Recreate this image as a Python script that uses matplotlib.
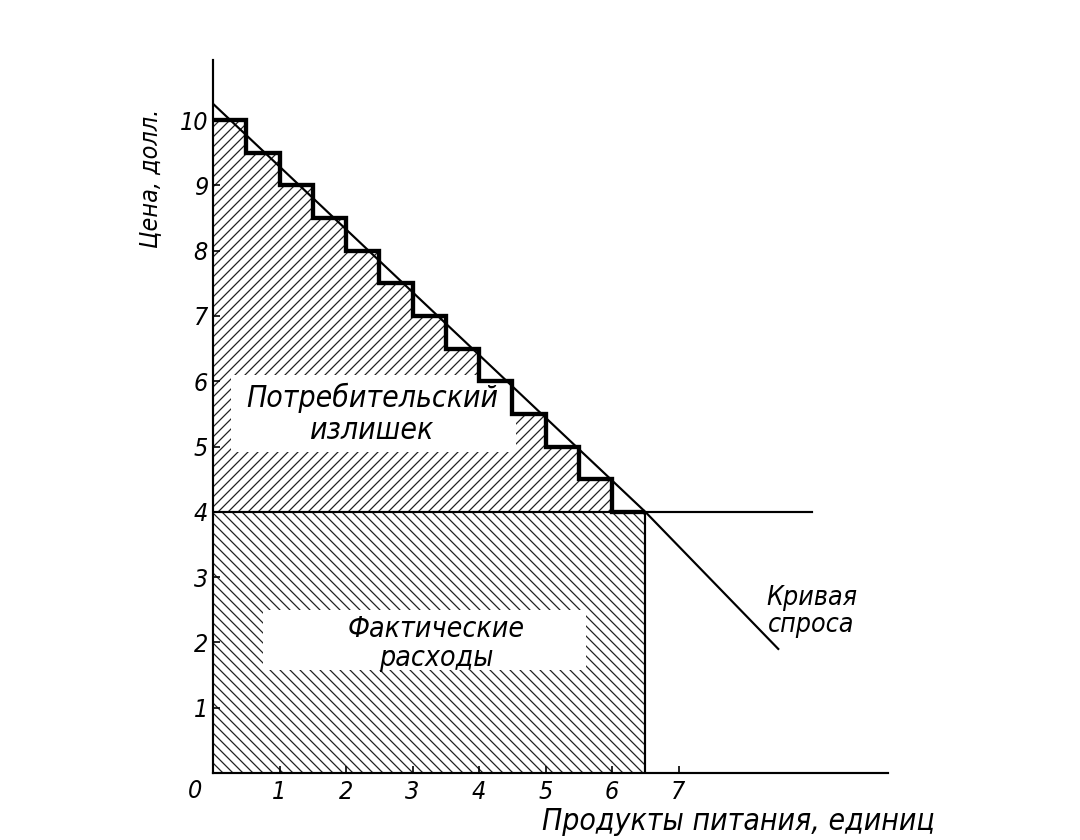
import matplotlib
matplotlib.use("Agg")
import matplotlib.pyplot as plt
from matplotlib.patches import Rectangle

# step demand: each half unit of food bought at a lower price
quantity_edges = [0, 0.5, 1.0, 1.5, 2.0, 2.5, 3.0, 3.5, 4.0, 4.5, 5.0, 5.5, 6.0, 6.5]
step_prices = [10, 9.5, 9, 8.5, 8, 7.5, 7, 6.5, 6, 5.5, 5, 4.5, 4]

# smooth demand curve (kinked at the market point)
demand_q = [0, 6.5, 8.5]
demand_p = [10.25, 4.0, 1.9]

market_price = 4
quantity_bought = 6.5
price_line_end = 9.0

x_ticks = [1, 2, 3, 4, 5, 6, 7]
y_ticks = [1, 2, 3, 4, 5, 6, 7, 8, 9, 10]

plt.rcParams['font.family'] = ['DejaVu Sans']
plt.rcParams['font.style'] = 'italic'
plt.rcParams['font.stretch'] = 'condensed'
plt.rcParams['hatch.linewidth'] = 0.75

fig = plt.figure(figsize=(9, 7), dpi=120)
ax = fig.add_axes([213 / 1080, 67 / 840, 675 / 1080, 713 / 840])
ax.set_xlim(0, 10.15)
ax.set_ylim(0, 10.92)

# actual spending (lower rectangle)
ax.bar(0, market_price, width=quantity_bought, align='edge', fill=False,
       hatch='\\\\\\\\', edgecolor='#222222', linewidth=0, zorder=1)
# consumer surplus (area under the steps above the price)
ax.stairs(step_prices, quantity_edges, baseline=market_price, fill=True,
          facecolor='none', edgecolor='#222222', hatch='////', linewidth=0, zorder=1)

# white label boxes
ax.add_patch(Rectangle((0.27, 4.92), 4.29, 1.18, facecolor='white',
                       edgecolor='none', zorder=2))
ax.add_patch(Rectangle((0.75, 1.58), 4.86, 0.92, facecolor='white',
                       edgecolor='none', zorder=2))

# outlines
ax.stairs(step_prices, quantity_edges, baseline=None, color='black',
          linewidth=2.6, zorder=4)
ax.plot(demand_q, demand_p, color='black', linewidth=1.3, zorder=3)
ax.plot([0, price_line_end], [market_price, market_price], color='black',
        linewidth=1.3, zorder=3)
ax.plot([quantity_bought, quantity_bought], [0, market_price], color='black',
        linewidth=1.3, zorder=3)

ax.text(2.4, 5.5, "Потребительский\nизлишек", ha='center', va='center',
        fontsize=18, linespacing=1.1, zorder=5)
ax.text(3.35, 1.98, "Фактические\nрасходы", ha='center', va='center',
        fontsize=17, linespacing=1.05, zorder=5)
ax.text(9.0, 2.47, "Кривая\nспроса", ha='center', va='center',
        fontsize=16, linespacing=1.05, zorder=5)

# axes look
for side in ['top', 'right']:
    ax.spines[side].set_visible(False)
for side in ['left', 'bottom']:
    ax.spines[side].set_linewidth(1.3)
ax.set_xticks(x_ticks)
ax.set_yticks(y_ticks)
ax.tick_params(direction='in', length=4, width=1, labelsize=15)
ax.tick_params(axis='y', pad=3)
ax.tick_params(axis='x', pad=4)
ax.text(-0.27, -0.27, "0", ha='center', va='center', fontsize=15)

fig.text(150 / 1080, 1 - 178 / 840, "Цена, долл.", rotation=90,
         ha='center', va='center', fontsize=15)
fig.text(738 / 1080, 1 - 822 / 840, "Продукты питания, единиц",
         ha='center', va='center', fontsize=18)

fig.savefig("out.png", dpi=120)
